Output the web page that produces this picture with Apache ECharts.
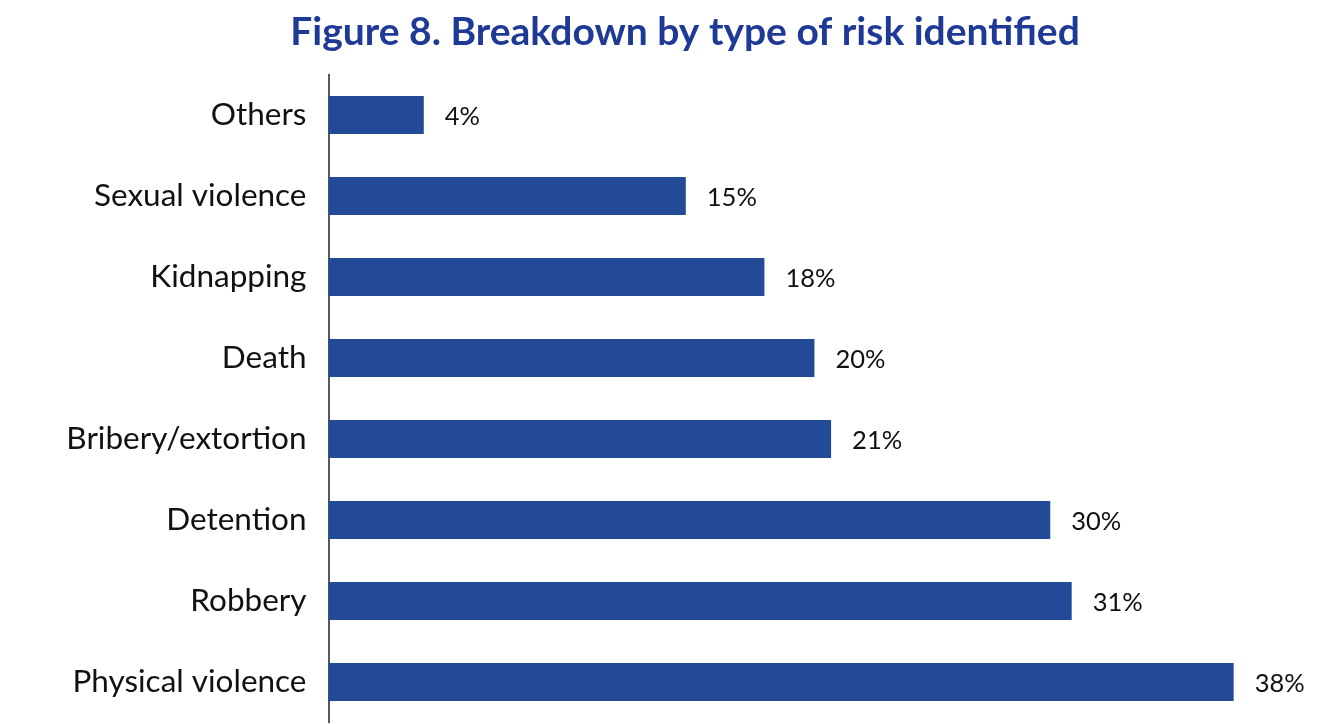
<!DOCTYPE html>
<html><head><meta charset="utf-8">
<script src="https://cdn.jsdelivr.net/npm/echarts@6/dist/echarts.min.js"></script>
<style>html,body{margin:0;padding:0;background:#fff}#c{width:1328px;height:724px}</style>
</head><body><div id="c"></div>
<script>
const categories = ["Physical violence","Robbery","Detention","Bribery/extortion","Death","Kidnapping","Sexual violence","Others"];
const values = [38,31.2,30.3,21.1,20.4,18.3,15,4];
const titleText = "Figure 8. Breakdown by type of risk identified";

const chart = echarts.init(document.getElementById('c'), null, {renderer:'canvas'});
chart.setOption({
  animation:false,
  backgroundColor:'#ffffff',
  title:{text:titleText,left:680,top:8,textAlign:'center',
    textStyle:{fontFamily:'Lato',fontWeight:'bold',fontSize:39,color:'#1f3a96'}},
  grid:{left:328.5,top:74.5,width:952.8,height:648,containLabel:false},
  xAxis:{type:'value',min:0,max:40,show:false},
  yAxis:{type:'category',data:categories,
    axisLine:{show:true,lineStyle:{color:'#222',width:1.5}},
    axisTick:{show:false},
    axisLabel:{fontFamily:'Lato',fontSize:31.5,color:'#111',margin:22,padding:[0,0,6,0]}},
  series:[{type:'bar',data:values,barWidth:38,
    itemStyle:{color:'#234a96'},
    label:{show:true,position:'right',distance:21,
      formatter:function(p){return Math.round(p.value)+'%';},
      fontFamily:'Lato',fontSize:25.5,color:'#111',offset:[0,2]}}]
});
</script></body></html>
